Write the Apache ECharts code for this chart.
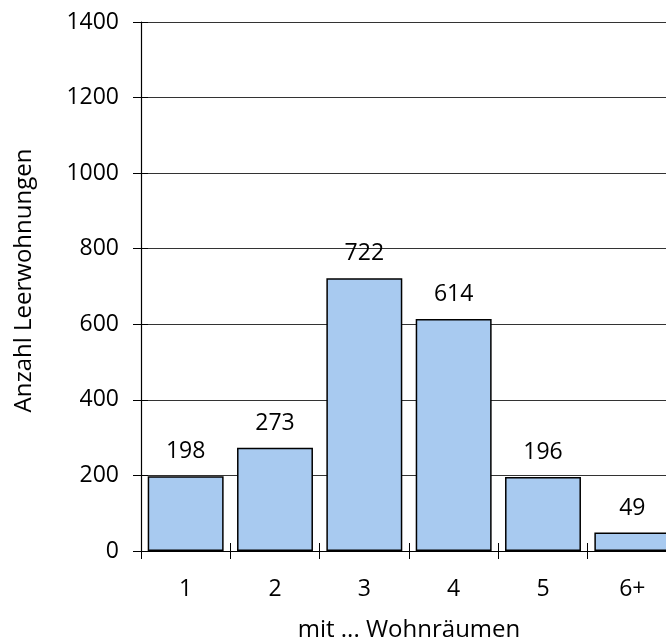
<!DOCTYPE html>
<html><head><meta charset="utf-8">
<script src="https://cdn.jsdelivr.net/npm/echarts@6/dist/echarts.min.js"></script>
<style>html,body{margin:0;padding:0;background:#fff}#c{width:666px;height:641px}</style>
</head><body><div id="c"></div>
<script>
const categories = ['1', '2', '3', '4', '5', '6+'];
const values = [198, 273, 722, 614, 196, 49];
const yTicks = [0, 200, 400, 600, 800, 1000, 1200, 1400];
const xTitle = 'mit ... Wohnräumen';
const yTitle = 'Anzahl Leerwohnungen';

const FONT = '"Open Sans", "Noto Sans", sans-serif';
const FS = 23;
const FT = 24;
const chart = echarts.init(document.getElementById('c'), null, {renderer: 'canvas'});
chart.setOption({
  animation: false,
  backgroundColor: '#fff',
  textStyle: {fontFamily: FONT},
  grid: {left: 141, top: 22, bottom: 90, right: -11, containLabel: false, outerBoundsMode: 'none'},
  xAxis: [{
    type: 'category', data: categories,
    axisLine: {lineStyle: {color: '#000', width: 1.2}},
    axisTick: {show: true, length: 8, lineStyle: {color: '#000'}},
    axisLabel: {color: '#000', fontSize: FS, fontFamily: FONT, margin: 27},
    name: xTitle, nameLocation: 'middle', nameGap: 67,
    nameTextStyle: {color: '#000', fontSize: FT, fontFamily: FONT}
  }, {
    type: 'category', data: categories, position: 'bottom',
    axisLine: {show: false},
    axisTick: {show: true, inside: true, length: 8, lineStyle: {color: '#000'}},
    axisLabel: {show: false}
  }],
  yAxis: [{
    type: 'value', min: yTicks[0], max: yTicks[yTicks.length - 1], interval: 200,
    axisLine: {show: true, lineStyle: {color: '#000', width: 1.2}},
    axisTick: {show: true, length: 8, lineStyle: {color: '#000'}},
    axisLabel: {color: '#000', fontSize: FS, fontFamily: FONT, margin: 22, formatter: v => String(v)},
    splitLine: {show: true, lineStyle: {color: '#333', width: 1}},
    name: yTitle, nameLocation: 'middle', nameGap: 105, nameRotate: 90,
    nameTextStyle: {color: '#000', fontSize: FT, fontFamily: FONT, padding: [0, 0, 0, 12]}
  }, {
    type: 'value', min: yTicks[0], max: yTicks[yTicks.length - 1], interval: 200, position: 'left',
    axisLine: {show: false},
    axisTick: {show: true, inside: true, length: 7, lineStyle: {color: '#000'}},
    axisLabel: {show: false}, splitLine: {show: false}
  }],
  series: [{
    type: 'bar', data: values, barCategoryGap: '15%',
    itemStyle: {color: '#a8caf0', borderColor: '#000', borderWidth: 1.5},
    label: {show: true, position: 'top', distance: 13, color: '#000', fontSize: FS, fontFamily: FONT}
  }]
});
</script></body></html>
